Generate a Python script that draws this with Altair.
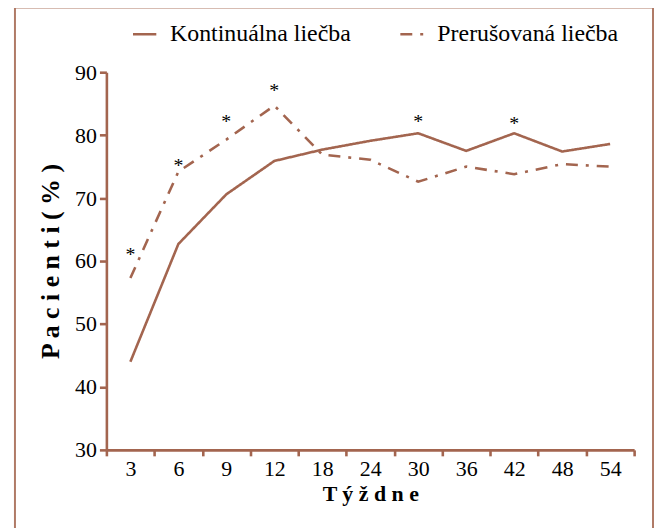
import altair as alt
import pandas as pd

weeks = ["3", "6", "9", "12", "18", "24", "30", "36", "42", "48", "54"]
continuous = [44.0, 62.7, 70.6, 75.9, 77.7, 79.1, 80.3, 77.5, 80.3, 77.4, 78.6]
intermittent = [57.3, 74.2, 79.3, 84.7, 76.9, 76.1, 72.6, 75.0, 73.8, 75.4, 75.0]
series_names = ["Kontinuálna liečba", "Prerušovaná liečba"]
star_weeks = ["3", "6", "9", "12", "30", "42"]
star_y = [61.7, 75.9, 82.8, 87.8, 82.8, 82.6]

BROWN = "#a3654f"
FONT = "Liberation Serif"

rows = []
for w, v in zip(weeks, continuous):
    rows.append({"week": w, "value": v, "series": series_names[0]})
for w, v in zip(weeks, intermittent):
    rows.append({"week": w, "value": v, "series": series_names[1]})
df = pd.DataFrame(rows)
stars = pd.DataFrame({"week": star_weeks, "y": star_y, "t": ["*"] * len(star_weeks)})

W, H = 531, 380

xenc = alt.X("week:N", sort=weeks, title="T ý ž d n e",
             scale=alt.Scale(paddingInner=0, paddingOuter=0),
             axis=alt.Axis(labelAngle=0, tickBand="extent", tickSize=6, labelPadding=3,
                           titlePadding=4))

lines = alt.Chart(df).mark_line(strokeWidth=2.6, color=BROWN).encode(
    x=xenc,
    y=alt.Y("value:Q", title="P a c i e n t i ( % )",
            scale=alt.Scale(domain=[30, 90], nice=False, zero=False),
            axis=alt.Axis(values=[30, 40, 50, 60, 70, 80, 90], tickSize=7, labelPadding=3,
                          titlePadding=11, titleFontSize=26)),
    strokeDash=alt.StrokeDash("series:N", sort=series_names,
                              scale=alt.Scale(domain=series_names, range=[[1, 0], [12, 8, 3, 8]]),
                              legend=alt.Legend(title=None, orient="none", direction="horizontal",
                                                legendX=25, legendY=-52, symbolType="stroke",
                                                symbolSize=550, symbolStrokeColor=BROWN,
                                                symbolStrokeWidth=2.6, labelFontSize=24,
                                                labelFont=FONT, labelColor="black", labelLimit=400,
                                                labelOffset=12, columnPadding=44, padding=0)),
)

text = alt.Chart(stars).mark_text(fontSize=20, font=FONT, color="black", baseline="middle", dy=5).encode(
    x=alt.X("week:N", sort=weeks),
    y=alt.Y("y:Q"),
    text="t:N",
)

frame = alt.Chart(pd.DataFrame({"a": [0]})).mark_rect(
    fill=None, stroke="#b07a66", strokeWidth=2
).encode(
    x=alt.value(-92), x2=alt.value(550), y=alt.value(-65), y2=alt.value(H + 90)
)

chart = alt.layer(frame, lines, text).properties(
    width=W, height=H,
    autosize=alt.AutoSizeParams(type="none"),
    padding={"left": 99, "top": 63, "right": 20, "bottom": 77},
).configure_view(stroke=None).configure_axis(
    domainColor=BROWN, domainWidth=2.6, tickColor=BROWN, tickWidth=2.6,
    labelFont=FONT, labelFontSize=22, labelColor="black", grid=False,
    titleFont=FONT, titleFontSize=22, titleFontWeight="bold", titleColor="black",
)

chart.save("out.html", embed_options={"renderer": "svg", "actions": False})
